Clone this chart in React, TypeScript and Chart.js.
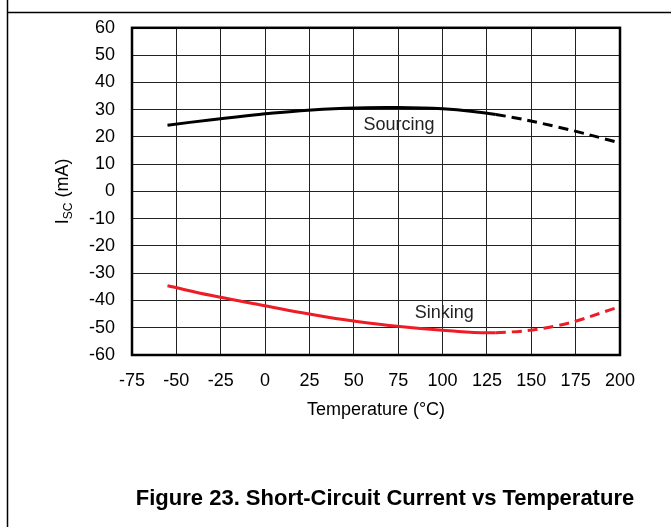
import React, { useEffect, useRef } from "react";
import { Chart, registerables } from "chart.js";

Chart.register(...registerables);

// ---- data ----
const temps = [-55, -30, -5, 20, 45, 70, 100, 130, 165, 200];
const sourcing = [24.3, 26.3, 28.1, 29.6, 30.5, 30.8, 30.3, 28.2, 23.6, 17.8];
const sinking = [-34.6, -38.2, -41.3, -44.4, -47.1, -49.2, -50.9, -51.8, -49.2, -42.3];
const dashFrom = 130;
const xTicks = [-75, -50, -25, 0, 25, 50, 75, 100, 125, 150, 175, 200];
const yTicks = [-60, -50, -40, -30, -20, -10, 0, 10, 20, 30, 40, 50, 60];
const seriesNames = ["Sourcing", "Sinking"];
const seriesColors = ["#000000", "#ee1c25"];
const labelX = [75.5, 101];
const labelY = [24.3, -44.7];
const xTitle = "Temperature (°C)";
const yTitleMain = "I";
const yTitleSub = "SC";
const yTitleRest = " (mA)";
const caption = "Figure 23. Short-Circuit Current vs Temperature";

const FONT = "'Liberation Sans', Arial, Helvetica, sans-serif";

const decor = {
  id: "decor",
  beforeDraw(chart: any) {
    const ctx = chart.ctx;
    ctx.save();
    ctx.strokeStyle = "#000";
    ctx.lineWidth = 1.5;
    ctx.beginPath();
    ctx.moveTo(7.5, 0);
    ctx.lineTo(7.5, chart.height);
    ctx.moveTo(7, 12.5);
    ctx.lineTo(chart.width, 12.5);
    ctx.stroke();
    ctx.restore();
  },
  afterDraw(chart: any) {
    const ctx = chart.ctx;
    const a = chart.chartArea;
    const xs = chart.scales.x;
    const ys = chart.scales.y;
    ctx.save();
    // plot frame
    ctx.strokeStyle = "#000";
    ctx.lineWidth = 2.5;
    ctx.strokeRect(a.left, a.top, a.right - a.left, a.bottom - a.top);

    // series labels
    ctx.fillStyle = "#222";
    ctx.font = `18px ${FONT}`;
    ctx.textAlign = "center";
    ctx.textBaseline = "middle";
    seriesNames.forEach((n, i) => {
      ctx.fillText(n, xs.getPixelForValue(labelX[i]), ys.getPixelForValue(labelY[i]));
    });

    // x title
    ctx.fillStyle = "#000";
    ctx.fillText(xTitle, (a.left + a.right) / 2, 410);

    // y title with subscript
    ctx.save();
    ctx.translate(62, (a.top + a.bottom) / 2);
    ctx.rotate(-Math.PI / 2);
    ctx.textAlign = "left";
    ctx.textBaseline = "alphabetic";
    ctx.font = `18px ${FONT}`;
    const w1 = ctx.measureText(yTitleMain).width;
    const w3 = ctx.measureText(yTitleRest).width;
    ctx.font = `12px ${FONT}`;
    const w2 = ctx.measureText(yTitleSub).width;
    const sx = -(w1 + w2 + w3) / 2;
    ctx.font = `18px ${FONT}`;
    ctx.fillText(yTitleMain, sx, 6);
    ctx.font = `12px ${FONT}`;
    ctx.fillText(yTitleSub, sx + w1, 10);
    ctx.font = `18px ${FONT}`;
    ctx.fillText(yTitleRest, sx + w1 + w2, 6);
    ctx.restore();

    // caption
    ctx.font = `bold 22px ${FONT}`;
    ctx.textAlign = "center";
    ctx.textBaseline = "middle";
    ctx.fillText(caption, 385, 499);
    ctx.restore();
  },
};

export default function App() {
  const ref = useRef<HTMLCanvasElement>(null);
  useEffect(() => {
    if (!ref.current) return;
    const dash = (ctx: any) => (ctx.p0.parsed.x >= dashFrom ? [10, 6] : undefined);
    const chart = new Chart(ref.current, {
      type: "line",
      data: {
        datasets: [
          {
            label: seriesNames[0],
            data: temps.map((t, i) => ({ x: t, y: sourcing[i] })),
            borderColor: seriesColors[0],
            borderWidth: 3,
            pointRadius: 0,
            tension: 0.4,
            segment: { borderDash: dash },
          },
          {
            label: seriesNames[1],
            data: temps.map((t, i) => ({ x: t, y: sinking[i] })),
            borderColor: seriesColors[1],
            borderWidth: 3,
            pointRadius: 0,
            tension: 0.4,
            segment: { borderDash: dash },
          },
        ],
      },
      options: {
        animation: false,
        responsive: false,
        devicePixelRatio: 1,
        layout: { padding: { left: 0, right: 51, top: 26, bottom: 0 } },
        plugins: { legend: { display: false }, tooltip: { enabled: false } },
        scales: {
          x: {
            type: "linear",
            min: -75,
            max: 200,
            afterBuildTicks: (axis: any) => {
              axis.ticks = xTicks.map((v) => ({ value: v }));
            },
            afterFit: (s: any) => {
              s.height = 172;
            },
            ticks: {
              color: "#000",
              font: { family: FONT, size: 18 },
              padding: 15,
              maxRotation: 0,
              autoSkip: false,
            },
            grid: { color: "#222", lineWidth: 1, drawTicks: false },
            border: { display: false },
          },
          y: {
            type: "linear",
            min: -60,
            max: 60,
            afterBuildTicks: (axis: any) => {
              axis.ticks = yTicks.map((v) => ({ value: v }));
            },
            afterFit: (s: any) => {
              s.width = 132;
            },
            ticks: {
              color: "#000",
              font: { family: FONT, size: 18 },
              padding: 17,
              autoSkip: false,
            },
            grid: { color: "#222", lineWidth: 1, drawTicks: false },
            border: { display: false },
          },
        },
      },
      plugins: [decor],
    });
    return () => chart.destroy();
  }, []);
  return (
    <div style={{ position: "absolute", left: 0, top: 0, width: 671, height: 527 }}>
      <canvas ref={ref} width={671} height={527} style={{ width: 671, height: 527 }} />
    </div>
  );
}
